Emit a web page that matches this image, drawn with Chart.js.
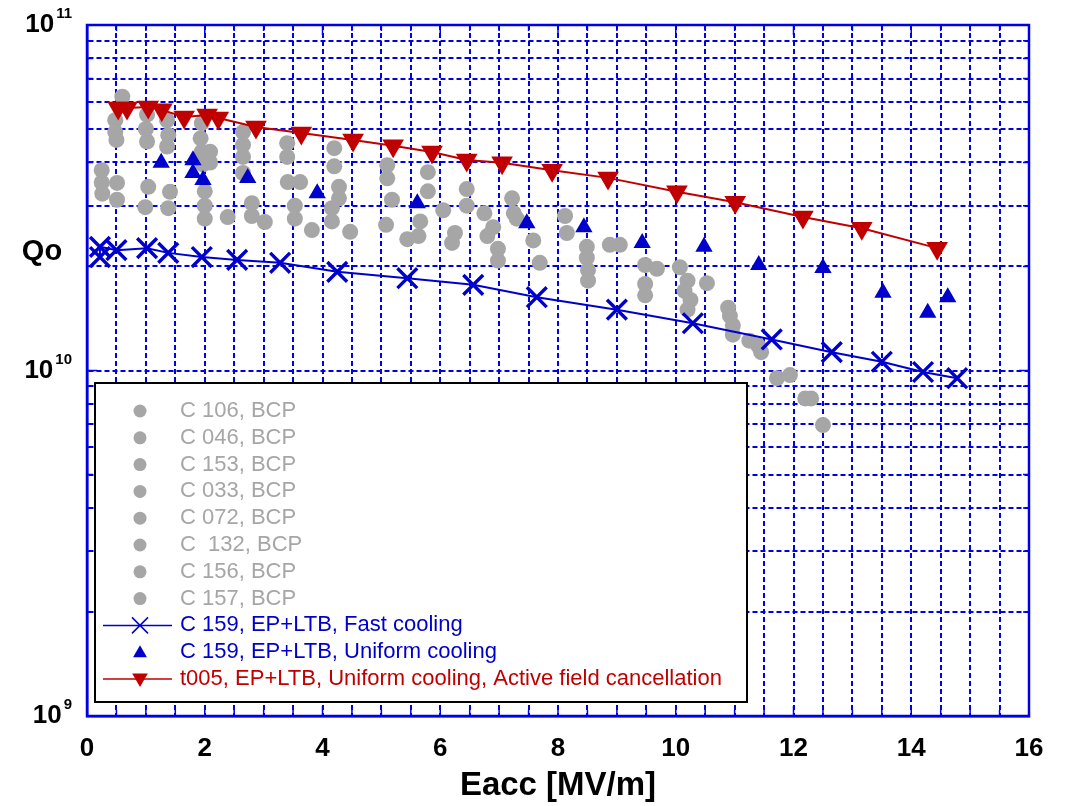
<!DOCTYPE html>
<html><head><meta charset="utf-8">
<script src="https://cdn.jsdelivr.net/npm/chart.js@4/dist/chart.umd.min.js"></script>
<style>html,body{margin:0;padding:0;background:#fff;}#wrap{width:1066px;height:806px;position:relative;}</style>
</head><body><div id="wrap"><canvas id="c" width="1066" height="806"></canvas></div>
<script>
// ---- data (Eacc [MV/m], Qo) ----
const xTickLabels = [0, 2, 4, 6, 8, 10, 12, 14, 16];
const yDecades = [1e9, 1e10, 1e11];
const yGridValues = [1e9,2e9,3e9,4e9,5e9,6e9,7e9,8e9,9e9,1e10,2e10,3e10,4e10,5e10,6e10,7e10,8e10,9e10,1e11];
const seriesLabels = ['C 106, BCP','C 046, BCP','C 153, BCP','C 033, BCP','C 072, BCP','C  132, BCP','C 156, BCP','C 157, BCP',
  'C 159, EP+LTB, Fast cooling','C 159, EP+LTB, Uniform cooling','t005, EP+LTB, Uniform cooling, Active field cancellation'];

const c106 = [[0.60,6.2e10],[0.48,5.3e10],[0.48,4.9e10],[1.02,5.5e10],[1.00,5.0e10],[1.36,5.3e10],[1.38,4.8e10],[1.95,5.2e10],[1.93,4.7e10],[2.65,4.9e10],[2.65,4.5e10],[3.40,4.55e10],[4.20,4.4e10],[5.10,3.93e10],[5.79,3.75e10],[6.45,3.35e10],[7.22,3.15e10],[8.12,2.8e10]];
const c046 = [[0.50,4.65e10],[1.02,4.6e10],[1.36,4.45e10],[1.95,4.3e10],[2.09,4.3e10],[2.09,4.0e10],[1.97,3.95e10],[2.65,4.15e10],[3.40,4.15e10],[4.20,3.9e10],[5.10,3.6e10],[5.79,3.3e10],[6.45,3.0e10],[7.25,2.85e10],[7.30,2.75e10],[8.15,2.5e10]];
const c153 = [[0.25,3.8e10],[0.25,3.5e10],[0.26,3.25e10],[0.51,3.49e10],[0.51,3.12e10],[1.04,3.4e10],[0.99,2.97e10],[1.41,3.29e10],[1.38,2.95e10]];
const c033 = [[2.00,3.3e10],[2.00,3.0e10],[2.00,2.75e10],[2.39,2.78e10],[2.65,3.73e10],[2.80,3.05e10],[2.80,2.8e10],[3.02,2.69e10],[3.41,3.51e10],[3.62,3.51e10],[3.53,3.0e10],[3.53,2.75e10],[3.82,2.55e10]];
const c072 = [[4.28,3.4e10],[4.28,3.15e10],[4.16,2.95e10],[4.16,2.7e10],[4.47,2.52e10],[5.18,3.12e10],[5.08,2.64e10],[5.44,2.4e10],[5.66,2.7e10],[5.63,2.45e10],[6.05,2.91e10]];
const c132 = [[6.25,2.5e10],[6.20,2.34e10],[6.75,2.85e10],[6.90,2.6e10],[6.80,2.45e10],[6.98,2.25e10],[6.98,2.08e10],[7.58,2.38e10],[7.69,2.05e10]];
const c156 = [[8.49,2.28e10],[8.49,2.12e10],[8.51,1.95e10],[8.51,1.82e10],[8.88,2.31e10],[9.05,2.31e10],[9.48,2.02e10],[9.68,1.97e10],[9.48,1.78e10],[9.48,1.65e10],[10.07,1.99e10]];
const c157 = [[10.20,1.82e10],[10.15,1.7e10],[10.25,1.6e10],[10.20,1.5e10],[10.53,1.79e10],[10.89,1.52e10],[10.92,1.44e10],[10.97,1.35e10],[10.97,1.27e10],[11.25,1.22e10],[11.40,1.18e10],[11.45,1.13e10],[11.72,9.5e9],[11.94,9.7e9],[12.20,8.3e9],[12.30,8.3e9],[12.50,6.95e9]];
const c159Fast = [[0.22,2.13e10],[0.22,2.28e10],[0.50,2.23e10],[1.02,2.26e10],[1.38,2.19e10],[1.95,2.13e10],[2.55,2.09e10],[3.28,2.05e10],[4.25,1.93e10],[5.44,1.85e10],[6.56,1.77e10],[7.64,1.63e10],[9.00,1.50e10],[10.29,1.37e10],[11.63,1.23e10],[12.65,1.13e10],[13.50,1.06e10],[14.20,9.9e9],[14.78,9.5e9]];
const c159Uniform = [[1.26,3.99e10],[1.80,4.06e10],[1.80,3.73e10],[1.97,3.56e10],[2.73,3.61e10],[3.91,3.26e10],[5.61,3.05e10],[7.47,2.67e10],[8.44,2.60e10],[9.43,2.34e10],[10.48,2.28e10],[11.41,2.02e10],[12.50,1.98e10],[13.52,1.68e10],[14.28,1.47e10],[14.62,1.63e10]];
const t005 = [[0.53,5.75e10],[0.68,5.75e10],[1.04,5.79e10],[1.27,5.68e10],[1.65,5.42e10],[2.04,5.49e10],[2.23,5.38e10],[2.87,5.07e10],[3.64,4.87e10],[4.52,4.65e10],[5.20,4.47e10],[5.86,4.29e10],[6.45,4.07e10],[7.05,3.99e10],[7.90,3.80e10],[8.85,3.61e10],[10.02,3.29e10],[11.01,3.07e10],[12.16,2.78e10],[13.16,2.58e10],[14.44,2.26e10]];

// ---- styles ----
const GRAY = '#A6A6A6', BLUE = '#0000CC', RED = '#C00000', GRID = '#0000E6';
const FONT = "'Liberation Sans', Arial, sans-serif";
Chart.defaults.font.family = FONT;

const pts = a => a.map(p => ({x: p[0], y: p[1]}));
const grays = [c106, c046, c153, c033, c072, c132, c156, c157];
const datasets = grays.map((d, i) => ({
  label: seriesLabels[i], data: pts(d), showLine: false, order: 10 + i,
  pointStyle: 'circle', pointRadius: 8, pointBackgroundColor: GRAY, pointBorderColor: GRAY, pointBorderWidth: 0,
  legendKind: 'circle'
}));
datasets.push({label: seriesLabels[8], data: pts(c159Fast), showLine: true, order: 2,
  borderColor: BLUE, borderWidth: 2, pointStyle: 'crossRot', pointRadius: 14, pointBorderWidth: 3.4,
  pointBorderColor: BLUE, pointBackgroundColor: BLUE, legendKind: 'cross'});
datasets.push({label: seriesLabels[9], data: pts(c159Uniform), showLine: false, order: 1,
  pointStyle: 'triangle', pointRadius: 8, pointBorderWidth: 2, pointBorderColor: BLUE, pointBackgroundColor: BLUE,
  legendKind: 'tri'});
datasets.push({label: seriesLabels[10], data: pts(t005), showLine: true, order: 0,
  borderColor: RED, borderWidth: 2, pointStyle: 'triangle', pointRotation: 180, pointRadius: 10.5, pointBorderWidth: 2,
  pointBorderColor: RED, pointBackgroundColor: RED, legendKind: 'dtri'});

function tri(ctx, x, y, r, down) {
  const s = down ? -1 : 1;
  ctx.beginPath();
  ctx.moveTo(x, y - s * r);
  ctx.lineTo(x + 0.866 * r, y + s * 0.5 * r);
  ctx.lineTo(x - 0.866 * r, y + s * 0.5 * r);
  ctx.closePath(); ctx.fill();
}

const framePlugin = {
  id: 'frame',
  beforeDatasetsDraw(chart) {
    const {ctx, chartArea: a, scales} = chart;
    ctx.save();
    ctx.strokeStyle = GRID; ctx.setLineDash([]);
    ctx.lineWidth = 1.5;
    scales.x.ticks.forEach(t => {
      const px = scales.x.getPixelForValue(t.value);
      const len = (t.value % 2 === 0) ? 10 : 6;
      ctx.beginPath(); ctx.moveTo(px, a.bottom); ctx.lineTo(px, a.bottom - len);
      ctx.moveTo(px, a.top); ctx.lineTo(px, a.top + len); ctx.stroke();
    });
    yGridValues.forEach(v => {
      const py = scales.y.getPixelForValue(v);
      const len = yDecades.includes(v) ? 10 : 6;
      ctx.beginPath(); ctx.moveTo(a.left, py); ctx.lineTo(a.left + len, py);
      ctx.moveTo(a.right, py); ctx.lineTo(a.right - len, py); ctx.stroke();
    });
    ctx.lineWidth = 2.5;
    ctx.strokeRect(a.left, a.top, a.right - a.left, a.bottom - a.top);
    ctx.restore();

    // legend box
    const L = 95, T = 383, R = 747, B = 702;
    ctx.save();
    ctx.fillStyle = '#fff'; ctx.fillRect(L, T, R - L, B - T);
    ctx.lineWidth = 2; ctx.strokeStyle = '#000'; ctx.strokeRect(L, T, R - L, B - T);
    ctx.font = '22px ' + FONT; ctx.textBaseline = 'middle'; ctx.textAlign = 'left';
    chart.data.datasets.forEach((ds, i) => {
      const y = 411 + i * 26.8, mx = 140;
      const col = ds.pointBackgroundColor;
      ctx.fillStyle = col; ctx.strokeStyle = col;
      if (ds.showLine) {
        ctx.lineWidth = 1.5; ctx.beginPath(); ctx.moveTo(103, y); ctx.lineTo(172, y); ctx.stroke();
      }
      if (ds.legendKind === 'circle') { ctx.beginPath(); ctx.arc(mx, y, 6.5, 0, Math.PI * 2); ctx.fill(); }
      else if (ds.legendKind === 'cross') {
        ctx.lineWidth = 1.5; ctx.beginPath();
        ctx.moveTo(mx - 8, y - 8); ctx.lineTo(mx + 8, y + 8); ctx.moveTo(mx + 8, y - 8); ctx.lineTo(mx - 8, y + 8); ctx.stroke();
      }
      else if (ds.legendKind === 'tri') tri(ctx, mx, y + 1, 8, false);
      else if (ds.legendKind === 'dtri') tri(ctx, mx, y - 1, 9, true);
      ctx.fillStyle = col;
      ctx.fillText(ds.label, 180, y);
    });
    ctx.restore();
  },
  afterDraw(chart) {
    const {ctx, scales} = chart;
    ctx.save();
    ctx.fillStyle = '#000'; ctx.textBaseline = 'middle';
    yDecades.forEach(v => {
      const py = scales.y.getPixelForValue(v);
      const exp = String(Math.round(Math.log10(v)));
      ctx.font = 'bold 15px ' + FONT; ctx.textAlign = 'right';
      ctx.fillText(exp, 72, py - 11);
      const w = ctx.measureText(exp).width;
      ctx.font = 'bold 26px ' + FONT;
      ctx.fillText('10', 72 - w - 2, py);
    });
    ctx.font = 'bold 29px ' + FONT; ctx.textAlign = 'center';
    ctx.fillText('Qo', 42, 252);
    ctx.restore();
  }
};

new Chart(document.getElementById('c'), {
  type: 'scatter',
  data: {datasets},
  options: {
    responsive: false, animation: false, devicePixelRatio: 1,
    layout: {padding: {left: 0, right: 37, top: 25, bottom: 0}},
    plugins: {legend: {display: false}, tooltip: {enabled: false}},
    scales: {
      x: {
        type: 'linear', min: 0, max: 16, position: 'bottom',
        ticks: {stepSize: 0.5, autoSkip: false, maxRotation: 0, padding: 17, color: '#000',
          font: {size: 26, weight: 'bold'},
          callback: v => xTickLabels.includes(v) ? String(v) : ''},
        grid: {color: GRID, lineWidth: 2, drawTicks: false},
        border: {display: true, color: GRID, width: 2.5, dash: [5, 3]},
        title: {display: true, text: 'Eacc [MV/m]', color: '#000', font: {size: 33, weight: 'bold'}, padding: {top: 0, bottom: 0}},
        afterFit: s => { s.height = 90; }
      },
      y: {
        type: 'logarithmic', min: 1e9, max: 1e11,
        ticks: {display: false},
        afterBuildTicks: s => { s.ticks = yGridValues.map(v => ({value: v})); },
        grid: {color: GRID, lineWidth: 2, drawTicks: false},
        border: {display: true, color: GRID, width: 2.5, dash: [5, 3]},
        afterFit: s => { s.width = 87; }
      }
    }
  },
  plugins: [framePlugin]
});
</script></body></html>
